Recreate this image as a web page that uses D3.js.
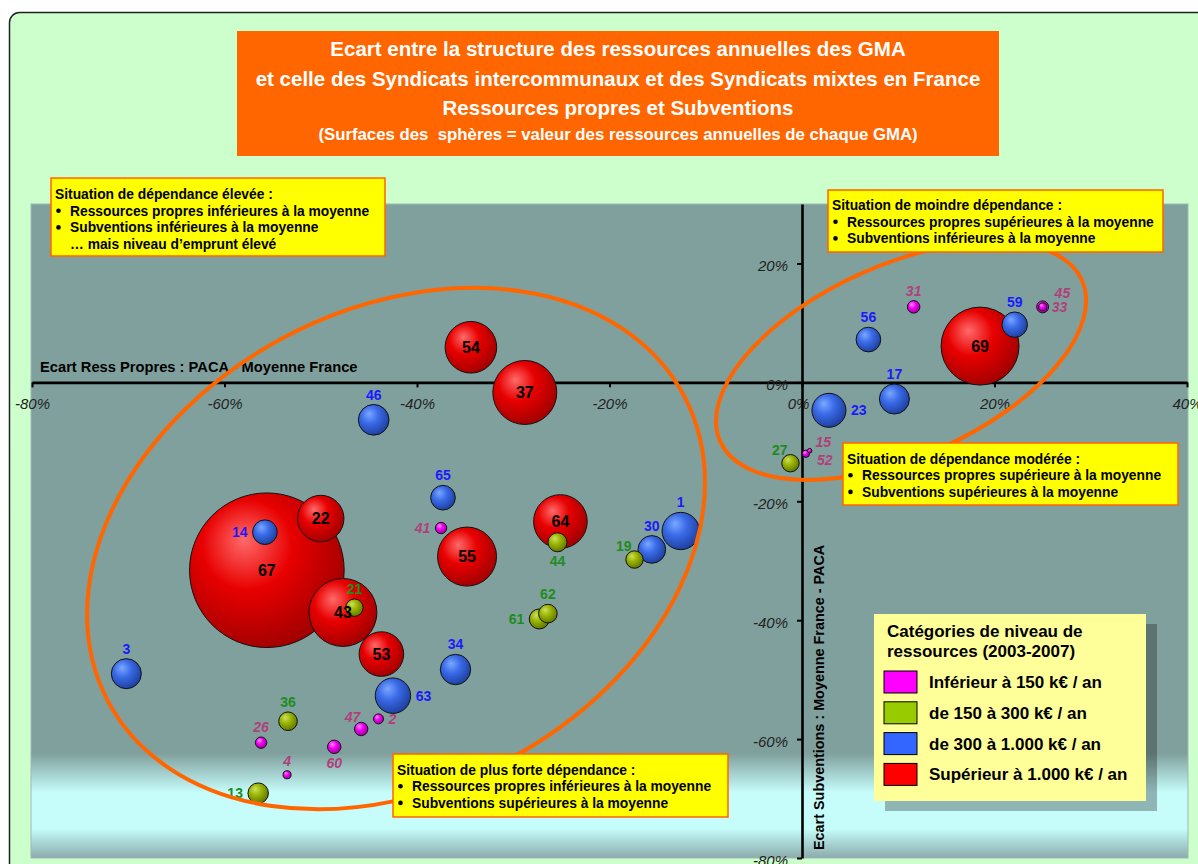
<!DOCTYPE html>
<html lang="fr">
<head>
<meta charset="UTF-8">
<title>Ecart structure des ressources des GMA</title>
<script src="https://d3js.org/d3.v7.min.js"></script>
<style>
  body { margin: 0; background: #fff; overflow: hidden; }
  svg { display: block; font-family: "Liberation Sans", Arial, sans-serif; }
  .tick text { font-style: italic; font-size: 15px; fill: #222; font-family: "Liberation Sans", Arial, sans-serif; }
  .box text { font-size: 13.8px; font-weight: bold; fill: #000; }
  .bubble-label { font-family: "Liberation Sans", Arial, sans-serif; font-weight: bold; }
</style>
</head>
<body>
<script>
// numéros des GMA et écarts (PACA - moyenne France)
const ids        = [1, 2, 3, 4, 13, 14, 15, 17, 19, 21, 22, 23, 26, 27, 30, 31, 33, 34, 36, 37,
                    41, 43, 44, 45, 46, 47, 52, 53, 54, 55, 56, 59, 60, 61, 62, 63, 64, 65, 67, 69];
const ecartRess  = [-0.126, -0.440, -0.702, -0.535, -0.565, -0.558, 0.004, 0.096, -0.174, -0.465,
                    -0.500, 0.028, -0.562, -0.012, -0.156, 0.116, 0.250, -0.360, -0.534, -0.288,
                    -0.375, -0.477, -0.254, 0.250, -0.445, -0.458, 0.008, -0.437, -0.344, -0.348,
                    0.069, 0.221, -0.486, -0.273, -0.264, -0.425, -0.251, -0.373, -0.556, 0.185];
const ecartSubv  = [-0.250, -0.566, -0.490, -0.660, -0.691, -0.252, -0.120, -0.028, -0.298, -0.379,
                    -0.229, -0.047, -0.606, -0.136, -0.281, 0.127, 0.127, -0.483, -0.570, -0.017,
                    -0.245, -0.387, -0.269, 0.127, -0.063, -0.583, -0.115, -0.457, 0.059, -0.293,
                    0.072, 0.097, -0.613, -0.398, -0.389, -0.527, -0.234, -0.194, -0.316, 0.061];
// ressources annuelles moyennes (k€)
const ressources = [710, 51, 460, 33, 215, 310, 28, 460, 155, 155, 1100, 590, 66, 155, 390, 80, 33, 470, 177, 2090,
                    66, 2360, 184, 73, 480, 92, 10, 1015, 1360, 1776, 310, 330, 92, 204, 178, 640, 1470, 310, 12200, 3100];

const xTicks = [-0.8, -0.6, -0.4, -0.2, 0, 0.2, 0.4];
const yTicks = [-0.8, -0.6, -0.4, -0.2, 0, 0.2];
const categories = ["Inférieur à 150 k€ / an", "de 150 à 300 k€ / an", "de 300 à 1.000 k€ / an", "Supérieur à 1.000 k€ / an"];
const catBreaks = [150, 300, 1000];

const titleLines = [
  "Ecart entre la structure des ressources annuelles des GMA",
  "et celle des Syndicats intercommunaux et des Syndicats mixtes en France",
  "Ressources propres et Subventions",
  "(Surfaces des  sphères = valeur des ressources annuelles de chaque GMA)"
];

// où mettre le numéro autour de la sphère (rouges : au centre)
const labelSide = {1:"n", 2:"e", 3:"n", 4:"n", 13:"w", 14:"w", 15:"ne", 52:"se", 17:"n", 19:"nw", 21:"n",
  23:"e", 26:"n", 27:"nw", 30:"n", 31:"n", 33:"e", 45:"ne", 34:"n", 36:"n", 41:"w", 44:"s", 46:"n",
  47:"nw", 56:"n", 59:"n", 60:"s", 61:"w", 62:"n", 63:"e", 65:"n"};

const W = 1198, H = 864;
const svg = d3.select("body").append("svg").attr("width", W).attr("height", H);
const defs = svg.append("defs");

const sphere = [
  { hi: "#ff8cff", mid: "#f000f0", lo: "#a000a0", swatch: "#ff00ff", label: "#b0407c" },
  { hi: "#cfe060", mid: "#99b400", lo: "#5f7400", swatch: "#99cc00", label: "#1e8c1e" },
  { hi: "#7aa8ff", mid: "#3a6ae8", lo: "#1d3f9c", swatch: "#3366ff", label: "#1a1aff" },
  { hi: "#ff6a6a", mid: "#e80000", lo: "#a00000", swatch: "#ff0000", label: "#000" }
];
sphere.forEach((s, i) => {
  const g = defs.append("radialGradient").attr("id", "sph" + i)
    .attr("cx", "40%").attr("cy", "38%").attr("r", "65%").attr("fx", "35%").attr("fy", "30%");
  g.append("stop").attr("offset", "0%").attr("stop-color", s.hi);
  g.append("stop").attr("offset", "45%").attr("stop-color", s.mid);
  g.append("stop").attr("offset", "100%").attr("stop-color", s.lo);
});

const bg = defs.append("linearGradient").attr("id", "plotbg").attr("x1", 0).attr("y1", 0).attr("x2", 0).attr("y2", 1);
[[0, "#80a09d"], [0.84, "#80a09d"], [0.9, "#c6fdfb"], [0.955, "#c6fdfb"], [1, "#8aabab"]]
  .forEach(([o, c]) => bg.append("stop").attr("offset", o).attr("stop-color", c));

// cadre
svg.append("rect").attr("x", 9.5).attr("y", 12.5).attr("width", 1220).attr("height", 880)
  .attr("rx", 10).attr("fill", "#ccffcc").attr("stroke", "#222").attr("stroke-width", 1.5);

const x = d3.scaleLinear().domain([-0.8, 0.4]).range([32, 1187]);
const y = d3.scaleLinear().domain([-0.8, 0.3]).range([858, 204]);
const r = d3.scaleSqrt().domain([0, 10000]).range([0, 70]);
const cat = d3.scaleThreshold().domain(catBreaks).range([0, 1, 2, 3]);

svg.append("rect").attr("x", 31).attr("y", 204).attr("width", 1157).attr("height", 654)
  .attr("fill", "url(#plotbg)").attr("stroke", "#9fb8b4").attr("stroke-width", 1);

const pct = d => Math.round(d * 100) + "%";

const xAxis = svg.append("g").attr("transform", `translate(0,${y(0)})`)
  .call(d3.axisBottom(x).tickValues(xTicks).tickSize(5).tickSizeOuter(0).tickFormat(pct));
xAxis.selectAll("text").attr("y", 16);
xAxis.selectAll("text").filter(d => d === 0).attr("dx", -4);

const yAxis = svg.append("g").attr("transform", `translate(${x(0)},0)`)
  .call(d3.axisLeft(y).tickValues(yTicks).tickSize(5).tickSizeOuter(0).tickPadding(9).tickFormat(pct));
yAxis.selectAll("text").attr("dy", "0.5em");

svg.selectAll(".domain").attr("stroke", "#000").attr("stroke-width", 2.6);
svg.selectAll(".tick line").attr("stroke", "#000").attr("stroke-width", 2);

svg.append("text").attr("x", 40).attr("y", 372)
  .attr("font-size", 14.7).attr("font-weight", "bold").text("Ecart Ress Propres : PACA - Moyenne France");
svg.append("text").attr("transform", "translate(824,850) rotate(-90)")
  .attr("font-size", 14.4).attr("font-weight", "bold").text("Ecart Subventions : Moyenne France - PACA");

// sphères
const data = ids.map((id, i) => ({ id, x: ecartRess[i], y: ecartSubv[i], v: ressources[i], c: cat(ressources[i]) }))
  .sort((a, b) => b.v - a.v);

svg.append("g").selectAll("circle").data(data).join("circle")
  .attr("cx", d => x(d.x)).attr("cy", d => y(d.y)).attr("r", d => r(d.v))
  .attr("fill", d => `url(#sph${d.c})`).attr("stroke", "#111").attr("stroke-width", 1);

function labelAt(d) {
  const cx = x(d.x), cy = y(d.y), rr = r(d.v);
  switch (labelSide[d.id] || "c") {
    case "n": return [cx, cy - rr - 10, "middle"];
    case "s": return [cx, cy + rr + 9, "middle"];
    case "e": return [cx + rr + 5, cy, "start"];
    case "w": return [cx - rr - 5, cy, "end"];
    case "ne": return [cx + rr + 6, cy - rr - 8, "start"];
    case "se": return [cx + rr + 5, cy + rr + 7, "start"];
    case "nw": return [cx - rr - 2, cy - rr - 5, "middle"];
    default: return [cx, cy, "middle"];
  }
}

svg.append("g").selectAll("text").data(data).join("text")
  .attr("class", "bubble-label")
  .each(function(d) {
    const [lx, ly, anchor] = labelAt(d);
    d3.select(this).attr("x", lx).attr("y", ly).attr("text-anchor", anchor);
  })
  .attr("dy", "0.36em")
  .attr("font-size", d => d.c === 3 ? 16 : 14)
  .attr("font-style", d => d.c === 0 ? "italic" : "normal")
  .attr("fill", d => sphere[d.c].label)
  .text(d => d.id);

// zones entourées
const zones = [
  { cx: -0.4218, cy: -0.2796, rx: 326, ry: 239, angle: -28 },
  { cx: 0.1029, cy: 0.0362, rx: 198, ry: 96, angle: -24 }
];
svg.append("g").selectAll("ellipse").data(zones).join("ellipse")
  .attr("transform", d => `translate(${x(d.cx)},${y(d.cy)}) rotate(${d.angle})`)
  .attr("rx", d => d.rx).attr("ry", d => d.ry)
  .attr("fill", "none").attr("stroke", "#ff6600").attr("stroke-width", 4);

// encadrés jaunes
const boxes = [
  { x: 51, y: 178, w: 334, h: 78, first: 194, lines: [
    ["Situation de dépendance élevée :", 0], ["Ressources propres inférieures à la moyenne", 1],
    ["Subventions inférieures à la moyenne", 1], ["… mais niveau d’emprunt élevé", 2]] },
  { x: 828, y: 190, w: 335, h: 62, first: 205, lines: [
    ["Situation de moindre dépendance :", 0], ["Ressources propres supérieures à la moyenne", 1],
    ["Subventions inférieures à la moyenne", 1]] },
  { x: 843, y: 443, w: 335, h: 62, first: 458.5, lines: [
    ["Situation de dépendance modérée :", 0], ["Ressources propres supérieure à la moyenne", 1],
    ["Subventions supérieures à la moyenne", 1]] },
  { x: 393, y: 754, w: 335, h: 63, first: 769.5, lines: [
    ["Situation de plus forte dépendance :", 0], ["Ressources propres inférieures à la moyenne", 1],
    ["Subventions supérieures à la moyenne", 1]] }
];
const box = svg.append("g").attr("class", "box").selectAll("g").data(boxes).join("g");
box.append("rect").attr("x", d => d.x).attr("y", d => d.y).attr("width", d => d.w).attr("height", d => d.h)
  .attr("fill", "#ffff00").attr("stroke", "#ff6600").attr("stroke-width", 1.5);
box.each(function(b) {
  const g = d3.select(this);
  b.lines.forEach(([t, kind], i) => {
    const cy = b.first + i * 16.7;
    if (kind === 1) g.append("circle").attr("cx", b.x + 7.5).attr("cy", cy).attr("r", 2.3).attr("fill", "#000");
    g.append("text").attr("x", b.x + (kind ? 19 : 4)).attr("y", cy + 5).text(t);
  });
});

// légende
const leg = svg.append("g");
leg.append("rect").attr("x", 885).attr("y", 624).attr("width", 272).attr("height", 187).attr("fill", "rgba(0,0,0,0.28)");
leg.append("rect").attr("x", 874).attr("y", 614).attr("width", 272).attr("height", 187).attr("fill", "#ffff99");
leg.selectAll("text.t").data(["Catégories de niveau de", "ressources (2003-2007)"]).join("text")
  .attr("class", "t").attr("x", 887).attr("y", (d, i) => 637 + i * 20)
  .attr("font-size", 17).attr("font-weight", "bold").text(d => d);
const item = leg.selectAll("g").data(categories).join("g")
  .attr("transform", (d, i) => `translate(884,${682 + i * 30.8})`);
item.append("rect").attr("y", -11).attr("width", 33).attr("height", 22)
  .attr("fill", (d, i) => sphere[i].swatch).attr("stroke", "#000").attr("stroke-width", 1);
item.append("text").attr("x", 45).attr("y", 6)
  .attr("font-size", 17).attr("font-weight", "bold").text(d => d);

// titre
svg.append("rect").attr("x", 237).attr("y", 31).attr("width", 762).attr("height", 125).attr("fill", "#ff6600");
svg.append("g").selectAll("text").data(titleLines).join("text")
  .attr("x", 618).attr("y", (d, i) => [55.5, 85.5, 114.5, 140][i])
  .attr("text-anchor", "middle").attr("fill", "#fff").attr("font-weight", "bold")
  .attr("font-size", (d, i) => i < 3 ? 20.5 : 16.8)
  .style("white-space", "pre")
  .text(d => d);
</script>
</body>
</html>
